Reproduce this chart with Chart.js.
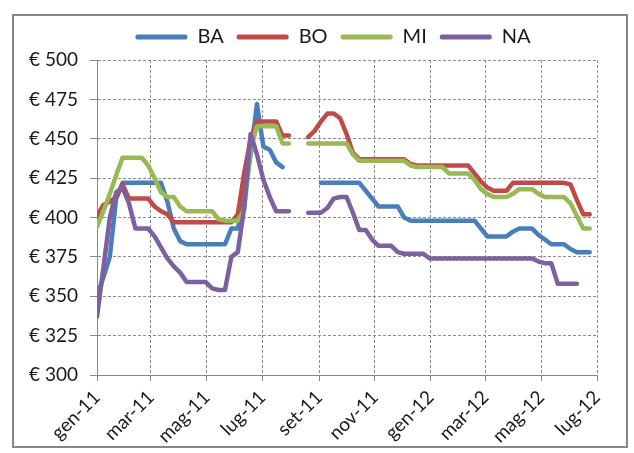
<!DOCTYPE html>
<html>
<head>
<meta charset="utf-8">
<script src="https://cdn.jsdelivr.net/npm/chart.js@4.4.1/dist/chart.umd.min.js"></script>
<style>
html,body{margin:0;padding:0;background:#ffffff;}
#c{display:block;}
</style>
</head>
<body>
<canvas id="c" width="634" height="453"></canvas>
<script>
// ---- data (weekly prices, € per tonne) ----
const weekDates = [
 '2011-01-01','2011-01-08','2011-01-15','2011-01-22','2011-01-29','2011-02-05','2011-02-12','2011-02-19','2011-02-26','2011-03-05',
 '2011-03-12','2011-03-19','2011-03-26','2011-04-02','2011-04-09','2011-04-16','2011-04-23','2011-04-30','2011-05-07','2011-05-14',
 '2011-05-21','2011-05-28','2011-06-04','2011-06-11','2011-06-18','2011-06-25','2011-07-02','2011-07-09','2011-07-16','2011-07-23',
 '2011-07-30','2011-08-06','2011-08-13','2011-08-20','2011-08-27','2011-09-03','2011-09-10','2011-09-17','2011-09-24','2011-10-01',
 '2011-10-08','2011-10-15','2011-10-22','2011-10-29','2011-11-05','2011-11-12','2011-11-19','2011-11-26','2011-12-03','2011-12-10',
 '2011-12-17','2011-12-24','2011-12-31','2012-01-07','2012-01-14','2012-01-21','2012-01-28','2012-02-04','2012-02-11','2012-02-18',
 '2012-02-25','2012-03-03','2012-03-10','2012-03-17','2012-03-24','2012-03-31','2012-04-07','2012-04-14','2012-04-21','2012-04-28',
 '2012-05-05','2012-05-12','2012-05-19','2012-05-26','2012-06-02','2012-06-09','2012-06-16','2012-06-23'
];
const tickDates  = ['2011-01-01','2011-03-01','2011-05-01','2011-07-01','2011-09-01','2011-11-01','2012-01-01','2012-03-01','2012-05-01','2012-07-01'];
const tickLabels = ['gen-11','mar-11','mag-11','lug-11','set-11','nov-11','gen-12','mar-12','mag-12','lug-12'];
const seriesNames = ['BA','BO','MI','NA'];

const baValues = [
 350,362,375,412,422,422,422,422,422,422,
 422,410,393,385,383,383,383,383,383,383,
 383,393,393,410,440,472,445,443,435,432,
 null,null,null,null,null,422,422,422,422,422,
 422,422,417,412,407,407,407,407,400,398,
 398,398,398,398,398,398,398,398,398,398,
 393,388,388,388,388,391,393,393,393,389,
 386,383,383,383,380,378,378,378
];
const boValues = [
 401,408,410,413,421,412,412,412,412,407,
 404,402,397,397,397,397,397,397,397,397,
 397,397,402,428,450,461,461,461,461,452,
 452,null,null,451,455,461,466,466,463,453,
 441,437,437,437,437,437,437,437,437,434,
 433,433,433,433,433,433,433,433,433,428,
 423,419,417,417,417,422,422,422,422,422,
 422,422,422,422,421,411,402,402
];
const miValues = [
 394,404,415,427,438,438,438,438,433,425,
 416,413,413,407,404,404,404,404,404,399,
 398,398,398,405,443,458,458,458,458,447,
 447,null,null,447,447,447,447,447,447,447,
 440,436,436,436,436,436,436,436,436,433,
 432,432,432,432,432,428,428,428,428,424,
 418,415,413,413,413,415,418,418,418,415,
 413,413,413,413,409,401,393,393
];
const naValues = [
 337,368,400,416,419,409,393,393,393,388,
 381,374,369,365,359,359,359,359,355,354,
 354,375,378,406,453,440,424,413,404,404,
 404,null,null,403,403,403,406,412,413,413,
 403,392,392,386,382,382,382,378,377,377,
 377,377,374,374,374,374,374,374,374,374,
 374,374,374,374,374,374,374,374,374,372,
 371,371,358,358,358,358,null,null
];
const seriesColors = ['#4A7EBB','#BE4B48','#98B954','#7D60A0'];

// ---- helpers ----
const T0 = Date.UTC(2011,0,1);
function dayOf(s){ const p = s.split('-').map(Number); return (Date.UTC(p[0],p[1]-1,p[2]) - T0)/86400000; }
const tickDays = tickDates.map(dayOf);
const weekDays = weekDates.map(dayOf);
const allValues = [baValues, boValues, miValues, naValues];

const datasets = seriesNames.map((name,i)=>({
  label: name,
  data: weekDays.map((d,k)=>({x:d, y: allValues[i][k]})),
  borderColor: seriesColors[i],
  backgroundColor: seriesColors[i],
  borderWidth: 4.5,
  pointRadius: 0,
  pointHoverRadius: 0,
  tension: 0,
  fill: false,
  spanGaps: false,
  borderJoinStyle: 'round',
  borderCapStyle: 'round',
  order: seriesNames.length - i
}));

const FONT = 'Lato, "Liberation Sans", sans-serif';
Chart.defaults.font.family = FONT;
Chart.defaults.color = '#1a1a1a';

const GRID = '#8c8c8c';
const AXIS = '#868686';

const framePlugin = {
  id: 'frame',
  beforeDraw(chart){
    const ctx = chart.ctx;
    ctx.save();
    ctx.fillStyle = '#ffffff';
    ctx.fillRect(0,0,chart.width,chart.height);
    ctx.strokeStyle = '#878787';
    ctx.lineWidth = 2;
    ctx.strokeRect(13,15,614,432);
    ctx.restore();
  }
};

const legendPlace = {
  id: 'legendPlace',
  beforeLayout(chart){
    const lg = chart.legend;
    if (lg && !lg.__patched){
      const f = lg.fit;
      lg.fit = function(){ f.call(this); this.height = 60; };
      lg.__patched = true;
    }
  },
  afterLayout(chart){
    const lg = chart.legend;
    if (lg){
      const center = 333;
      lg.left = center - 300;
      lg.right = center + 300;
      lg.top = 14;
    }
  }
};

new Chart(document.getElementById('c'), {
  type: 'line',
  data: { datasets },
  options: {
    responsive: false,
    animation: false,
    devicePixelRatio: 1,
    layout: { padding: { left: 0, right: 37, top: 0, bottom: 0 } },
    plugins: {
      tooltip: { enabled: false },
      legend: {
        display: true,
        position: 'top',
        labels: {
          boxWidth: 52,
          boxHeight: 5,
          padding: 13,
          color: '#1a1a1a',
          font: { size: 20, family: FONT },
          useBorderRadius: true,
          borderRadius: 2,
          sort: (a,b) => a.datasetIndex - b.datasetIndex,
          generateLabels(chart){
            const items = Chart.defaults.plugins.legend.labels.generateLabels(chart);
            items.forEach(it => { it.fillStyle = seriesColors[it.datasetIndex]; it.lineWidth = 0; });
            return items;
          }
        }
      }
    },
    scales: {
      x: {
        type: 'linear',
        min: tickDays[0],
        max: tickDays[tickDays.length-1],
        afterBuildTicks(scale){ scale.ticks = tickDays.map(v => ({value: v})); },
        afterFit(scale){ scale.height = 78; scale.paddingLeft = 0; scale.paddingRight = 0; },
        ticks: {
          autoSkip: false,
          minRotation: 45,
          maxRotation: 45,
          padding: 5,
          font: { size: 19, family: FONT },
          color: '#1a1a1a',
          callback(v){ const i = tickDays.indexOf(v); return i >= 0 ? tickLabels[i] : ''; }
        },
        grid: { color: GRID, lineWidth: 1, tickLength: 6, tickColor: AXIS, tickBorderDash: [] },
        border: { color: AXIS, width: 1, dash: [3,2] }
      },
      y: {
        min: 300,
        max: 500,
        afterFit(scale){ scale.width = 97; },
        ticks: {
          stepSize: 25,
          padding: 12,
          font: { size: 19, family: FONT },
          color: '#1a1a1a',
          callback(v){ return '€ ' + v; }
        },
        grid: { color: GRID, lineWidth: 1, tickLength: 7, tickColor: AXIS, tickBorderDash: [] },
        border: { color: AXIS, width: 1, dash: [3,2] }
      }
    }
  },
  plugins: [framePlugin, legendPlace]
});
</script>
</body>
</html>
